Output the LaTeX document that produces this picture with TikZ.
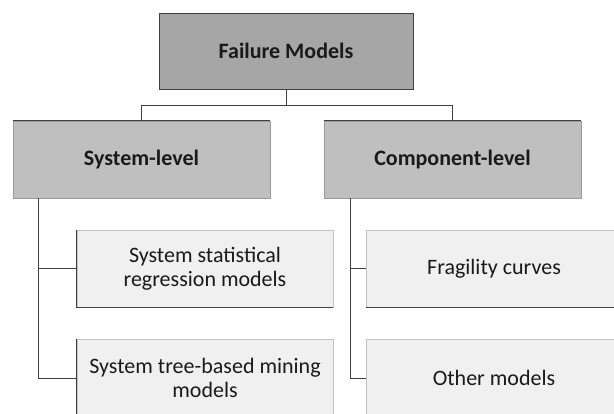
\documentclass[tikz,border=0pt]{standalone}
\usepackage{fontspec}
\setmainfont{Carlito}
\definecolor{topfill}{HTML}{A6A6A6}
\definecolor{lvlfill}{HTML}{BFBFBF}
\definecolor{leaffill}{HTML}{F0F0F0}
\definecolor{linec}{HTML}{404040}
\definecolor{edgec}{HTML}{9A9A9A}
\definecolor{txt}{HTML}{1A1A1A}
\begin{document}
\begin{tikzpicture}[x=1pt,y=-1pt,
  box/.style={rectangle, inner sep=0pt, align=center, text=txt,
    font=\fontsize{22}{24}\selectfont, line width=0.8pt},
  topbox/.style={box, fill=topfill, draw=linec, minimum width=254pt, minimum height=76pt, font=\fontsize{22}{24}\selectfont\bfseries},
  lvlbox/.style={box, fill=lvlfill, draw=edgec, minimum width=257pt, minimum height=77pt, font=\fontsize{22}{24}\selectfont\bfseries},
  leafbox/.style={box, fill=leaffill, draw=edgec!60, minimum width=256pt, minimum height=77pt},
  conn/.style={draw=linec, line width=0.8pt}]
\clip (0,0) rectangle (614,413);
\fill[white] (0,0) rectangle (614,413);
\node[topbox] (top) at (286,51) {Failure Models};
\node[lvlbox] (sys) at (141.5,159.5) {System-level};
\node[lvlbox] (comp) at (452.5,159.5) {Component-level};
\node[leafbox] (c1) at (205,268.5) {System statistical\\regression models};
\node[leafbox, minimum height=78pt] (c2) at (205,378) {System tree-based mining\\models};
\node[leafbox] (c3) at (494,268.5) {Fragility curves};
\node[leafbox, minimum height=78pt] (c4) at (494,378) {Other models};
% darker edges (shadowed sides)
\draw[conn] (sys.north west) -- (sys.north east);
\draw[conn] (comp.north west) -- (comp.north east);
\draw[conn] (c1.north west) |- (c1.south east);
\draw[conn] (c2.north west) |- (c2.south east);
\draw[conn] (c3.south west) -- (c3.south east);
\draw[conn] (c4.south west) -- (c4.south east);
% connectors
\draw[conn] (top.south) -- ++(0,16) coordinate (bar);
\draw[conn] (sys.north) |- (bar) -| (comp.north);
\coordinate (sysdrop) at ([xshift=-103.5pt]sys.south);
\coordinate (compdrop) at ([xshift=-102.5pt]comp.south);
\draw[conn] (sysdrop) |- (c1.west);
\draw[conn] (sysdrop) |- (c2.west);
\draw[conn] (compdrop) |- (c3.west);
\draw[conn] (compdrop) |- (c4.west);
\end{tikzpicture}
\end{document}
